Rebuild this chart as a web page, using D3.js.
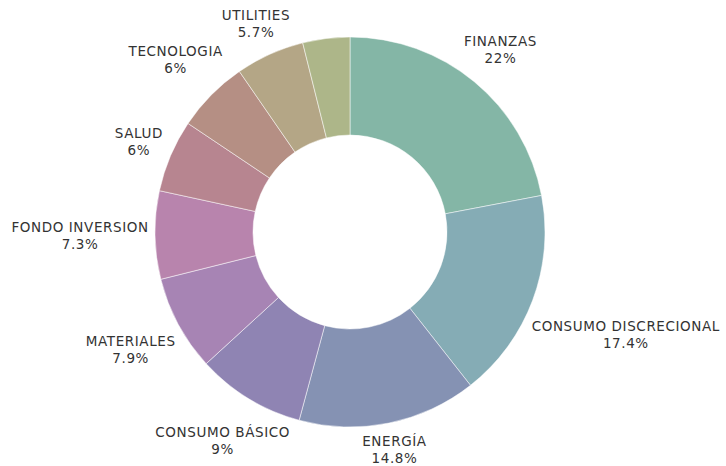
<!DOCTYPE html>
<html>
<head>
<meta charset="utf-8">
<script src="https://cdn.jsdelivr.net/npm/d3@7"></script>
<style>
  body { margin: 0; background: #fff; }
  text { font-family: "DejaVu Sans", sans-serif; font-size: 13.5px; letter-spacing: 0.6px; fill: #333; }
</style>
</head>
<body>
<div id="chart"></div>
<script>
const sectors = ["FINANZAS", "CONSUMO DISCRECIONAL", "ENERGÍA", "CONSUMO BÁSICO", "MATERIALES",
                 "FONDO INVERSION", "SALUD", "TECNOLOGIA", "UTILITIES", "OTROS"];
const shares = [22, 17.4, 14.8, 9, 7.9, 7.3, 6, 6, 5.7, 3.9];
const colors = ["#84b6a6", "#85acb5", "#8592b3", "#8f84b3", "#a784b4",
                "#b884ad", "#b78590", "#b58f84", "#b4a686", "#adb689"];

const width = 726, height = 466;
const cx = 350, cy = 232,
      outer = 195, inner = 97,
      labelGap = 201; // nearest point of a label box sits this far from centre

const data = sectors.map((s, i) => ({ name: s, value: shares[i], color: colors[i] }));

let svg = d3.select("#chart")
    .append("svg")
    .attr("width", width)
    .attr("height", height);

let g = svg.append("g")
    .attr("transform", `translate(${cx},${cy})`);

let pie = d3.pie()
    .value(d => d.value)
    .sort(null);

let arc = d3.arc()
    .innerRadius(inner)
    .outerRadius(outer);

let arcs = pie(data);

g.selectAll("path")
    .data(arcs)
    .join("path")
    .attr("d", arc)
    .attr("fill", d => d.data.color)
    .attr("stroke", "#fff")
    .attr("stroke-width", 0.5);

// labels, small slices get none
let label = g.selectAll(".label")
    .data(arcs.filter(d => d.data.value >= 5))
    .join("g")
    .attr("class", "label");

label.append("text")
    .attr("text-anchor", "middle")
    .attr("y", -4)
    .text(d => d.data.name);

label.append("text")
    .attr("text-anchor", "middle")
    .attr("y", 13)
    .text(d => d.data.value + "%");

// push each label out along its mid angle until its box clears the ring
label.each(function(d) {
    let b = this.getBBox();
    let a = (d.startAngle + d.endAngle) / 2;
    let sx = Math.sin(a), sy = -Math.cos(a);
    let dist = 0;
    for (let r = 0; r < 400; r += 0.5) {
        let x0 = r * sx + b.x, x1 = x0 + b.width;
        let y0 = r * sy + b.y, y1 = y0 + b.height;
        let dx = Math.max(x0, 0, -x1), dy = Math.max(y0, 0, -y1);
        if (Math.hypot(dx, dy) >= labelGap) { dist = r; break; }
    }
    d3.select(this).attr("transform", `translate(${dist * sx},${dist * sy})`);
});
</script>
</body>
</html>
